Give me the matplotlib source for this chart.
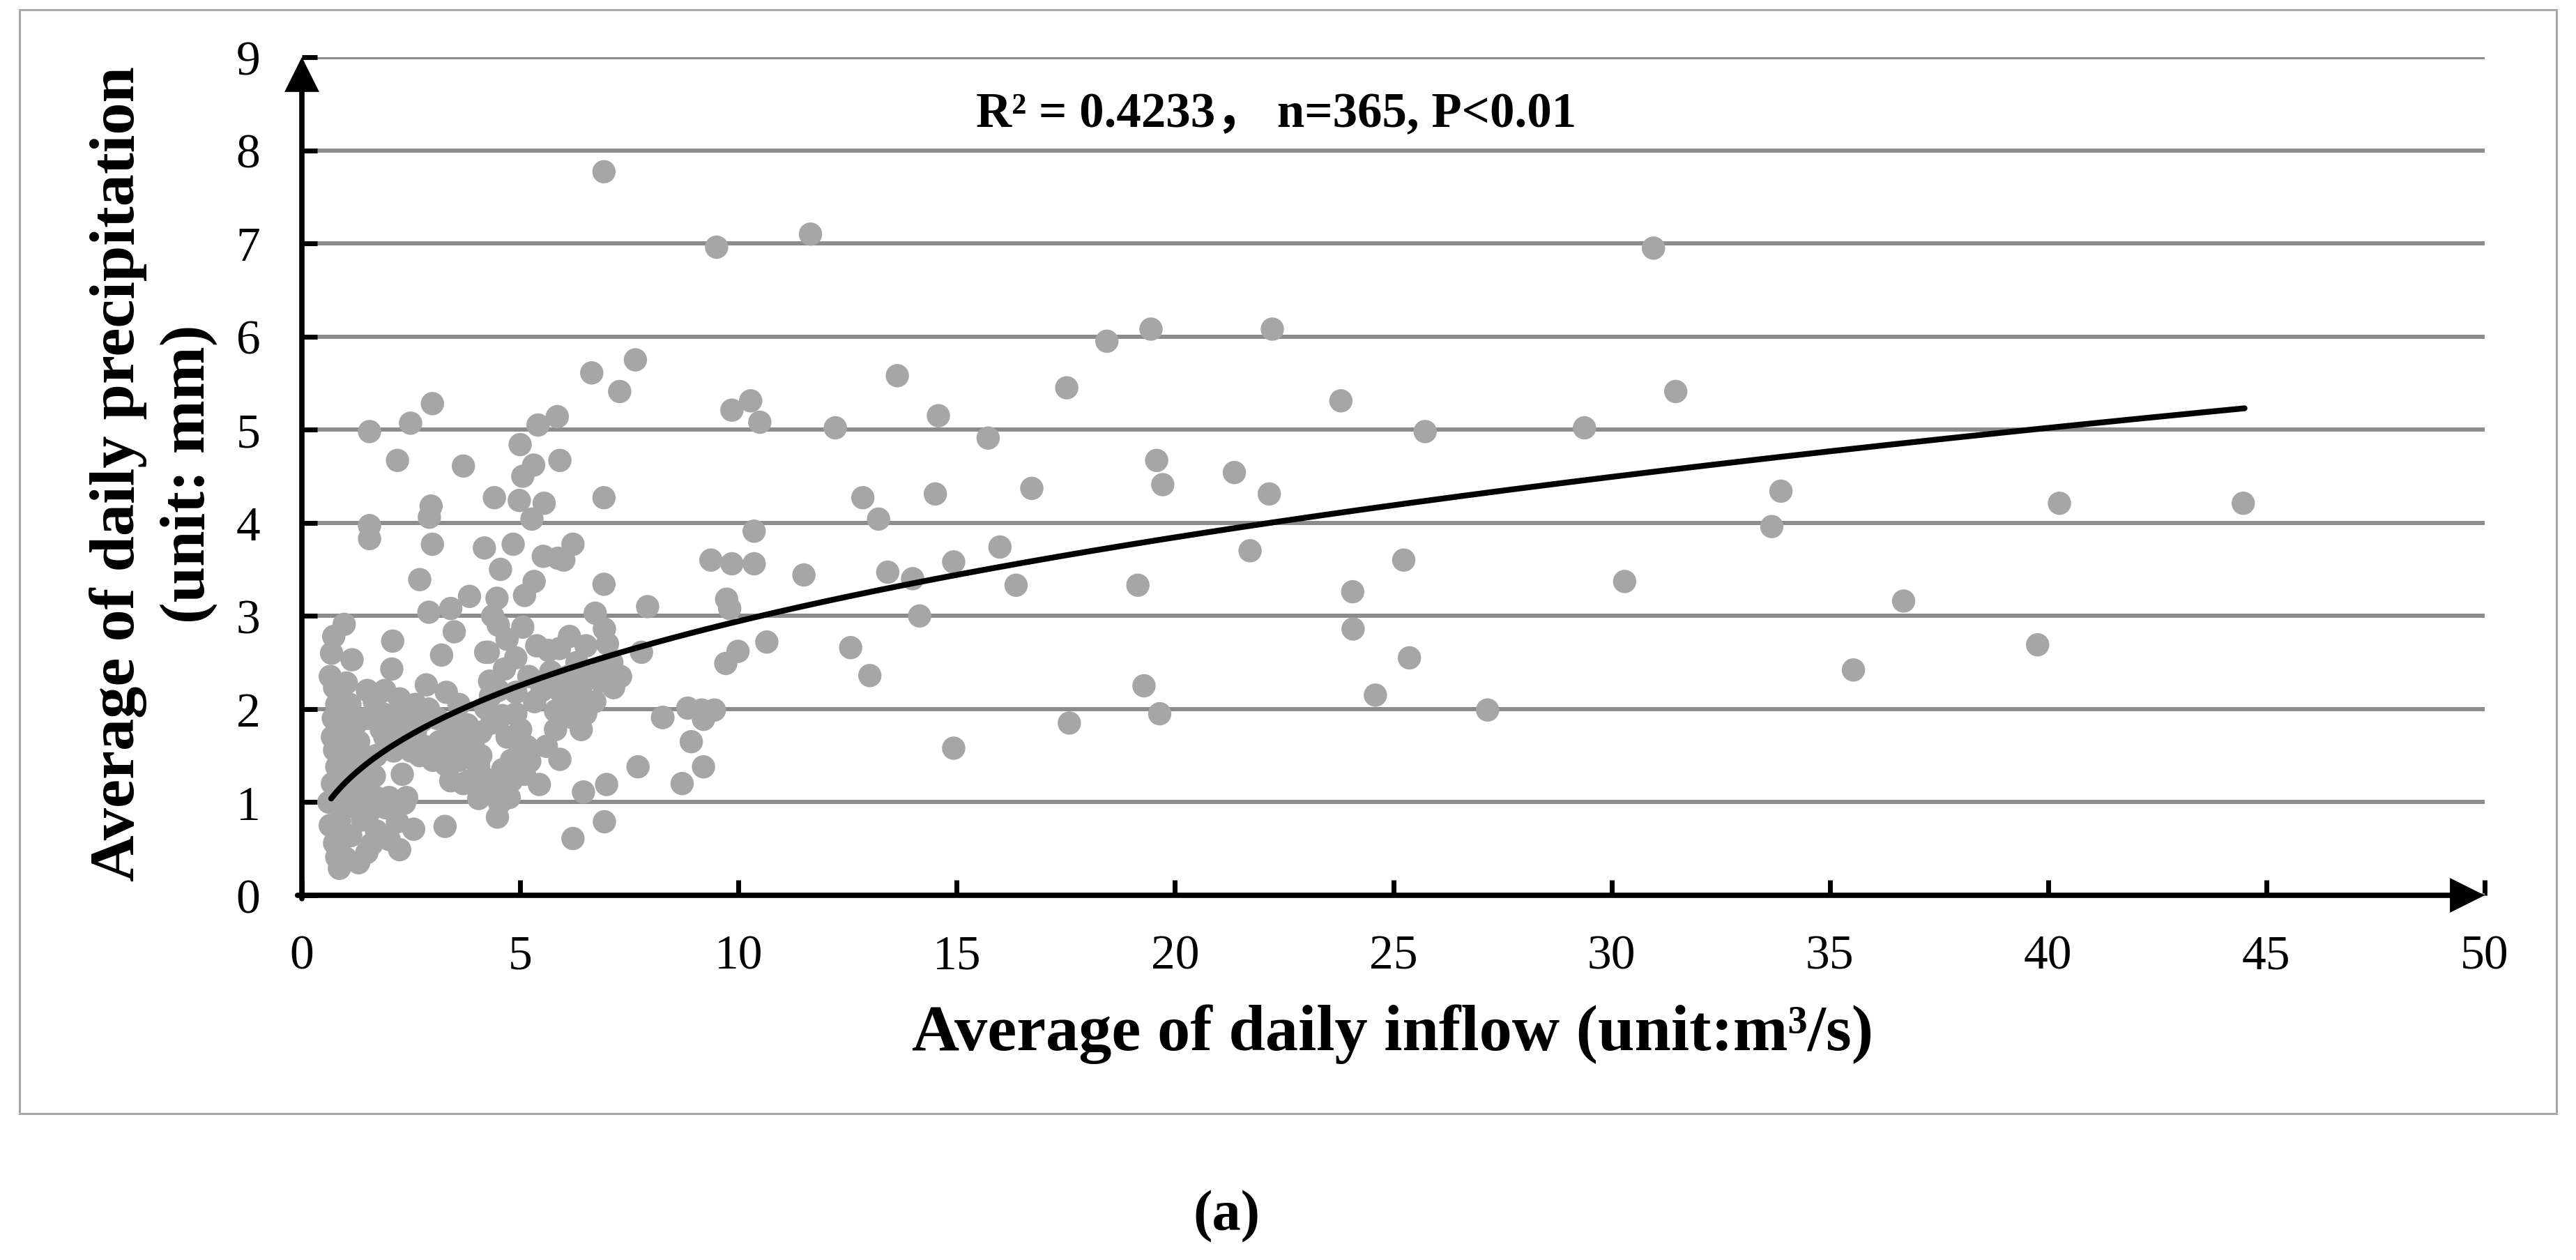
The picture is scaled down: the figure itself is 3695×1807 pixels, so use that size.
import matplotlib
matplotlib.use("Agg")
import matplotlib.pyplot as plt
import numpy as np
from matplotlib.patches import Rectangle

# ---------------- data ----------------
inflow = [
    # upper part of the dense cluster
    6.92, 6.64, 7.64, 7.28, 2.99, 2.49, 1.55, 5.41, 5.85, 5.00, 2.19, 3.70, 5.31,
    5.06, 5.91, 4.41, 4.98, 5.55, 5.27, 6.92, 2.96, 2.92, 1.55, 1.55, 2.99, 4.18,
    4.84, 4.55, 5.53, 5.87, 6.21, 6.00, 2.70, 5.32, 6.92, 3.84, 4.47, 5.10, 7.92,
    # lower-left part of the cluster
    2.91, 3.41, 0.97, 0.73, 1.15, 2.08, 2.06, 0.75, 1.02, 3.20, 3.49, 4.21, 2.85,
    3.31, 1.66, 2.24, 0.86, 0.75, 0.80, 1.18, 1.82, 2.77, 3.20, 3.52, 3.94, 4.05,
    3.41, 3.84, 1.66, 1.34, 0.80, 0.86, 0.75, 0.86, 0.80, 1.49, 2.24, 2.56, 2.19,
    1.71, 1.39, 1.92, 2.35, 3.28, 1.12, 1.02, 2.30, 2.03, 2.40, 3.79, 4.32,
    0.70, 0.70, 0.72, 0.80, 0.90, 1.00, 1.10, 1.20, 1.30, 1.40, 1.50, 1.55, 1.70,
    1.70, 1.90, 2.00, 2.10, 2.20, 2.30, 2.40, 2.50, 2.60, 2.70, 2.80, 2.90, 3.00,
    3.10, 3.30, 3.40, 3.60, 3.70, 3.90, 4.10, 4.20, 1.50, 1.90, 2.60, 3.60, 0.62,
    0.65, 0.90, 1.20, 1.55, 1.60, 2.00, 1.00, 1.30, 1.10, 0.65, 0.68,
    0.95, 1.25, 1.45, 1.85, 2.15, 2.45, 3.15, 3.55,
    # lower-right part of the cluster
    4.37, 5.06, 5.38, 5.65, 6.13, 6.72, 6.93, 6.51, 7.78, 4.27, 4.64, 7.14, 6.71,
    5.81, 5.81, 6.40, 8.26, 7.70, 5.91, 5.44, 6.45, 6.98, 6.93, 6.21, 4.48, 4.53,
    4.05, 4.05, 5.01, 4.59, 5.01, 5.22, 4.80, 4.37, 5.33, 4.90, 4.21, 6.18,
    4.10, 4.60, 4.70, 4.90, 5.10, 4.30, 4.50, 4.70, 4.90, 5.20, 5.50, 5.70, 5.90,
    6.10, 6.30, 6.60, 6.90, 7.10, 7.30, 4.50, 5.90, 6.25, 6.85, 5.60, 6.50, 4.35,
    4.75, 4.80, 5.15, 6.00, 6.40, 7.00,
    # 8 - 20 m3/s
    9.50, 11.65, 18.44, 19.45, 13.64, 17.52, 9.85, 10.28, 10.49, 12.22, 14.58,
    15.72, 19.58, 19.72, 16.72, 14.51, 12.85, 13.21, 10.36, 9.37, 9.85, 10.36,
    11.50, 13.42, 13.99, 14.93, 15.99, 16.36, 19.15, 9.73, 9.80, 14.15, 10.65,
    9.99, 9.71, 12.57, 13.01, 19.29, 19.65, 17.58, 14.93, 8.27, 8.84, 9.16, 9.45,
    9.20, 8.92, 9.20, 8.71,
    # above 20 m3/s
    30.96, 22.23, 31.47, 23.80, 25.73, 29.38, 21.36, 22.16, 33.88, 33.67, 21.72,
    25.24, 24.07, 30.30, 36.69, 24.08, 25.37, 35.54, 24.59, 27.16, 40.26, 44.47,
    39.76,
]
precip = [
    7.77, 5.61, 5.75, 5.41, 5.28, 5.07, 4.98, 5.05, 5.14, 4.84, 4.67, 4.61, 4.62,
    4.50, 4.67, 4.27, 4.24, 4.21, 4.04, 4.27, 4.18, 4.06, 3.97, 3.83, 3.77, 3.73,
    3.77, 3.50, 3.64, 3.62, 3.77, 3.60, 3.39, 3.37, 3.34, 3.21, 3.19, 3.22, 3.10,
    3.04, 3.08, 2.91, 2.78, 2.53, 2.73, 2.43, 2.23, 2.28, 2.58, 2.83, 2.61, 2.26,
    2.18, 2.08, 2.11, 1.78, 1.56, 1.38, 1.78, 1.78, 1.88, 1.58, 1.63, 1.58, 1.38,
    1.23, 1.23, 1.28, 1.18, 0.99, 0.79, 0.56, 0.29, 0.41, 0.46, 0.49, 0.71, 0.79,
    0.69, 0.81, 0.94, 0.99, 0.74, 0.64, 1.63, 1.61, 1.93, 2.01, 1.83, 2.14,
    1.20, 1.70, 1.90, 2.05, 1.45, 1.15, 1.90, 1.50, 1.65, 1.35, 1.90, 1.45, 1.05,
    1.50, 1.70, 1.05, 1.55, 1.80, 1.30, 1.05, 1.55, 1.75, 1.50, 1.60, 2.00, 1.45,
    1.90, 1.40, 1.75, 1.45, 1.20, 1.70, 1.50, 1.25, 2.20, 2.20, 2.05, 2.05, 1.00,
    0.75, 0.60, 0.95, 0.90, 0.55, 0.60, 0.40, 0.35, 2.05, 2.35, 2.60,
    1.30, 1.85, 1.10, 1.95, 1.65, 1.85, 1.65, 1.85,
    3.00, 2.88, 2.68, 2.63, 2.78, 3.03, 2.86, 2.68, 2.61, 2.61, 2.43, 2.23, 2.08,
    1.98, 1.78, 1.78, 1.91, 1.38, 1.46, 1.19, 1.11, 1.19, 0.79, 0.61, 0.84, 0.99,
    1.44, 1.04, 1.58, 1.93, 1.78, 1.44, 1.23, 1.13, 2.08, 2.18, 2.01, 1.91,
    1.75, 1.35, 1.70, 1.95, 1.30, 2.30, 2.20, 2.75, 2.55, 2.35, 2.20, 2.40, 2.20,
    2.35, 2.50, 2.35, 2.45, 2.50, 2.35, 2.90, 2.65, 2.10, 2.30, 1.60, 1.95, 1.85,
    1.05, 1.45, 1.60, 2.05, 2.25, 2.70,
    6.96, 7.10, 5.95, 6.08, 5.58, 5.45, 5.21, 5.31, 5.08, 5.02, 5.15,
    4.91, 4.67, 4.41, 4.37, 4.31, 4.27, 4.04, 3.91, 3.60, 3.56, 3.56,
    3.44, 3.47, 3.40, 3.58, 3.74, 3.33, 3.33, 3.18, 3.08, 3.00, 2.72,
    2.62, 2.49, 2.66, 2.36, 2.25, 1.95, 1.85, 1.58, 1.91, 2.01, 1.99, 1.99,
    1.89, 1.65, 1.38, 1.20,
    6.95, 6.08, 5.41, 5.31, 4.98, 5.02, 4.54, 4.31, 4.34, 3.96, 3.70,
    3.60, 3.26, 3.37, 3.16, 2.86, 2.55, 2.42, 2.15, 1.99, 4.21, 4.21,
    2.69,
]

# power trendline shown in the chart: y = a * x^b  (R^2 = 0.4233)
trend_a = 1.213
trend_b = 0.385
trend_range = (0.67, 44.5)

x_ticks = [0, 5, 10, 15, 20, 25, 30, 35, 40, 45, 50]
y_ticks = [0, 1, 2, 3, 4, 5, 6, 7, 8, 9]

x_label = "Average of daily inflow (unit:m\u00b3/s)"
y_label = "Average of daily precipitation\n(unit: mm)"
stat_text = "R\u00b2 = 0.4233\uff0c n=365, P<0.01"
panel_text = "(a)"

# ---------------- figure ----------------
SERIF = ["Liberation Serif", "DejaVu Serif"]
plt.rcParams["font.family"] = SERIF

W, H = 3695, 1808
fig = plt.figure(figsize=(W / 100, H / 100), dpi=100)
fig.patch.set_facecolor("white")

ax = fig.add_axes([433 / W, 1 - 1285 / H, (3564 - 433) / W, (1285 - 83) / H])
ax.set_xlim(0, 50)
ax.set_ylim(0, 9)
ax.set_xticks(x_ticks)
ax.set_yticks(y_ticks)
ax.set_xticklabels([str(v) for v in x_ticks])
ax.set_yticklabels([str(v) for v in y_ticks])

for s in ax.spines.values():
    s.set_visible(False)

ax.yaxis.grid(True, color="#8c8c8c", lw=4.3, zorder=0)
ax.xaxis.grid(False)
ax.set_axisbelow(True)

ax.tick_params(axis="both", direction="in", length=16, width=5, color="black",
               labelsize=50, top=False, right=False)
ax.tick_params(axis="y", pad=43)
ax.tick_params(axis="x", pad=40)

ax.scatter(inflow, precip, s=580, color="#a6a6a6", edgecolors="none",
           zorder=2, clip_on=False)

xs = np.linspace(trend_range[0], trend_range[1], 400)
ax.plot(xs, trend_a * xs ** trend_b, color="black", lw=6, zorder=3,
        solid_capstyle="round")

# axis lines with arrow heads
arrow_kw = dict(arrowstyle="-|>,head_length=0.6,head_width=0.3",
                mutation_scale=45, lw=5.5, color="black",
                shrinkA=0, shrinkB=0, joinstyle="miter")
ax.annotate("", xy=(1, 0), xytext=(-0.002, 0), xycoords="axes fraction",
            arrowprops=arrow_kw, annotation_clip=False, zorder=6)
ax.annotate("", xy=(0, 1), xytext=(0, -0.004), xycoords="axes fraction",
            arrowprops=arrow_kw, annotation_clip=False, zorder=6)

# texts
t_stat = fig.text(1831 / W, 1 - 165 / H, stat_text, ha="center", va="center",
                  fontsize=38, fontweight="bold",
                  family=["Liberation Serif", "Noto Sans CJK SC"])
t_x = fig.text(1998 / W, 1 - 1506 / H, x_label, ha="center", va="baseline",
               fontsize=56, fontweight="bold")
t_y = fig.text(220 / W, 1 - 680 / H, y_label, ha="center", va="center",
               rotation=90, fontsize=56, fontweight="bold",
               multialignment="center", linespacing=1.3)
t_a = fig.text(1759 / W, 1 - 1745 / H, panel_text, ha="center", va="center",
               fontsize=60, fontweight="bold")

# fit text sizes to the measured extents of the reference
fig.canvas.draw()
r = fig.canvas.get_renderer()
for t, target in [(t_stat, 860), (t_x, 1380), (t_a, 96)]:
    bb = t.get_window_extent(r)
    t.set_fontsize(t.get_fontsize() * target / bb.width)
# y label: fit first line length
probe = fig.text(0, 0, y_label.split("\n")[0], fontsize=56, fontweight="bold")
fig.canvas.draw()
L = probe.get_window_extent(r).width
probe.remove()
t_y.set_fontsize(56 * 1170 / L)

# light frame around the chart
fig.add_artist(Rectangle((28 / W, 1 - 1598 / H), (3667 - 28) / W, (1598 - 15) / H,
                         transform=fig.transFigure, fill=False,
                         ec="#a8a8a8", lw=2.2))

fig.savefig("out.png", dpi=100, facecolor="white")
